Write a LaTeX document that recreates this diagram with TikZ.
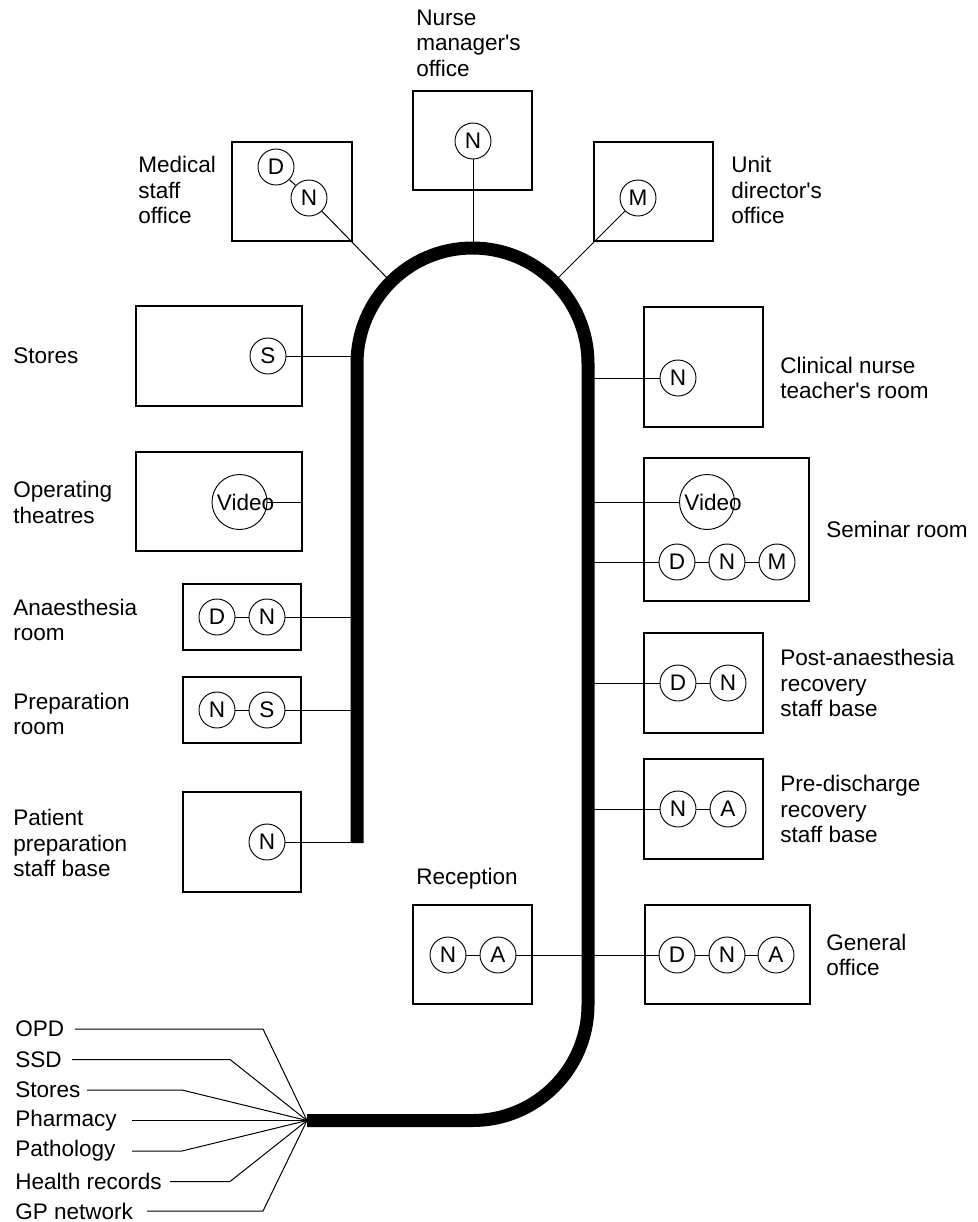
\documentclass[tikz,border=0pt]{standalone}
\usepackage{fontspec}
\newfontfamily\lsf{Liberation Sans}
\begin{document}
\begin{tikzpicture}[x=0.75pt,y=-0.75pt,
  txt/.style={font=\lsf\fontsize{16.9}{19.1}\selectfont, inner sep=0pt},
  lbl/.style={txt, anchor=west, align=left},
  room/.style={draw, line width=1.1pt, inner sep=0pt},
  pc/.style={draw, circle, line width=0.7pt, minimum size=27pt, inner sep=0pt, txt},
  vid/.style={draw, circle, line width=0.7pt, minimum size=41.25pt, inner sep=0pt, txt},
  link/.style={line width=0.75pt},
  track/.style={line width=9.75pt}]
\useasboundingbox (0,0) rectangle (978,1222);

% rooms
\node[room, minimum width=90pt,    minimum height=74.25pt] (med)  at (292,191.5) {};
\node[room, minimum width=89.25pt, minimum height=74.25pt] (nmo)  at (472.5,140.5) {};
\node[room, minimum width=89.25pt, minimum height=74.25pt] (udo)  at (653.5,191.5) {};
\node[room, minimum width=124.5pt, minimum height=75pt]    (sto)  at (219,356) {};
\node[room, minimum width=124.5pt, minimum height=74.25pt] (opt)  at (219,501.5) {};
\node[room, minimum width=88.5pt,  minimum height=49.5pt]  (ana)  at (242,617) {};
\node[room, minimum width=88.5pt,  minimum height=49.5pt]  (prep) at (242,710) {};
\node[room, minimum width=88.5pt,  minimum height=75pt]    (ppsb) at (242,842) {};
\node[room, minimum width=89.25pt, minimum height=90pt]    (cnt)  at (703.5,367) {};
\node[room, minimum width=123.75pt,minimum height=107.25pt](sem)  at (726.5,529.5) {};
\node[room, minimum width=89.25pt, minimum height=75pt]    (pan)  at (703.5,683) {};
\node[room, minimum width=89.25pt, minimum height=75pt]    (pdr)  at (703.5,809) {};
\node[room, minimum width=123.75pt,minimum height=74.25pt] (gen)  at (727.5,954.5) {};
\node[room, minimum width=89.25pt, minimum height=74.25pt] (rec)  at (472.5,954.5) {};

% staff / equipment
\node[pc] (medD) at (276,167) {D};
\node[pc] (medN) at (309,198) {N};
\node[pc] (nmoN) at (473,141) {N};
\node[pc] (udoM) at (638,198) {M};
\node[pc] (stoS) at (268,356) {S};
\node[vid] (optV) at (239.5,502) {\makebox[0pt]{\hspace{9pt}Video}};
\node[pc] (anaD) at (217,617) {D};
\node[pc] (anaN) at (267,617) {N};
\node[pc] (prepN) at (217,710) {N};
\node[pc] (prepS) at (267,710) {S};
\node[pc] (ppsbN) at (267,842) {N};
\node[pc] (cntN) at (678,378) {N};
\node[vid] (semV) at (707,502) {\makebox[0pt]{\hspace{9pt}Video}};
\node[pc] (semD) at (677,562) {D};
\node[pc] (semN) at (727,562) {N};
\node[pc] (semM) at (777,562) {M};
\node[pc] (panD) at (678,683) {D};
\node[pc] (panN) at (728,683) {N};
\node[pc] (pdrN) at (678,809) {N};
\node[pc] (pdrA) at (728,809) {A};
\node[pc] (recN) at (448,955) {N};
\node[pc] (recA) at (498,955) {A};
\node[pc] (genD) at (677,955) {D};
\node[pc] (genN) at (727,955) {N};
\node[pc] (genA) at (776,955) {A};

% track tap points
\coordinate (tMed) at (390.8,281.8);
\coordinate (tNmo) at (473,248);
\coordinate (tUdo) at (554.2,281.8);
\coordinate (tSto) at (357,356);
\coordinate (tAna) at (357,617);
\coordinate (tPrep) at (357,710);
\coordinate (tPpsb) at (357,842);
\coordinate (tCnt) at (588,378);
\coordinate (tSemV) at (588,502);
\coordinate (tSemD) at (588,562);
\coordinate (tPan) at (588,683);
\coordinate (tPdr) at (588,809);
\coordinate (jn) at (307,1120.5);

% connectors
\draw[link] (medD) -- (medN);
\draw[link] (medN) -- (tMed);
\draw[link] (nmoN) -- (tNmo);
\draw[link] (udoM) -- (tUdo);
\draw[link] (stoS) -- (tSto);
\draw[link] (optV) -- (optV -| opt.east);
\draw[link] (anaD) -- (anaN);
\draw[link] (anaN) -- (tAna);
\draw[link] (prepN) -- (prepS);
\draw[link] (prepS) -- (tPrep);
\draw[link] (ppsbN) -- (tPpsb);
\draw[link] (tCnt) -- (cntN);
\draw[link] (tSemV) -- (semV);
\draw[link] (tSemD) -- (semD);
\draw[link] (semD) -- (semN);
\draw[link] (semN) -- (semM);
\draw[link] (tPan) -- (panD);
\draw[link] (panD) -- (panN);
\draw[link] (tPdr) -- (pdrN);
\draw[link] (pdrN) -- (pdrA);
\draw[link] (recN) -- (recA);
\draw[link] (recA) -- (genD);
\draw[link] (genD) -- (genN);
\draw[link] (genN) -- (genA);

% the track
\draw[track] (357,843) -- (357,363.5) arc[start angle=180, end angle=360, radius=115.5]
  -- (588,1005) arc[start angle=0, end angle=90, radius=115.5] -- (jn);

% room labels
\node[lbl] (Lmed) at (138,190) {Medical\\staff\\office};
\node[lbl] (Lnmo) at (416,43) {Nurse\\manager's\\office};
\node[lbl] (Ludo) at (731,190) {Unit\\director's\\office};
\node[lbl] (Lsto) at (13,356) {Stores};
\node[lbl] (Lopt) at (13,502.5) {Operating\\theatres};
\node[lbl] (Lana) at (13,620) {Anaesthesia\\room};
\node[lbl] (Lprep) at (13,714) {Preparation\\room};
\node[lbl] (Lppsb) at (13,843) {Patient\\preparation\\staff base};
\node[lbl] (Lcnt) at (780,378) {Clinical nurse\\teacher's room};
\node[lbl] (Lsem) at (826,529) {Seminar room};
\node[lbl] (Lpan) at (780,683) {Post-anaesthesia\\recovery\\staff base};
\node[lbl] (Lpdr) at (780,809) {Pre-discharge\\recovery\\staff base};
\node[lbl] (Lgen) at (826,955) {General\\office};
\node[lbl] (Lrec) at (416,879) {Reception};

% external links
\node[lbl] (lOPD) at (15,1029) {OPD};
\node[lbl] (lSSD) at (15,1059.5) {SSD};
\node[lbl] (lSto) at (15,1090) {Stores};
\node[lbl] (lPha) at (15,1120.5) {Pharmacy};
\node[lbl] (lPat) at (15,1151) {Pathology};
\node[lbl] (lHea) at (15,1181.5) {Health records};
\node[lbl] (lGP)  at (15,1211) {GP network};

\coordinate (sOPD) at (75,1029);     \coordinate (cOPD) at (263,1029);
\coordinate (sSSD) at (72,1059.5);   \coordinate (cSSD) at (230,1059.5);
\coordinate (sSto) at (87,1090);     \coordinate (cSto) at (182,1090);
\coordinate (sPha) at (132,1120.5);
\coordinate (sPat) at (132,1151);    \coordinate (cPat) at (182,1151);
\coordinate (sHea) at (170,1181.5);  \coordinate (cHea) at (230,1181.5);
\coordinate (sGP)  at (147,1211);    \coordinate (cGP)  at (263,1211);

\draw[link] (sOPD) -- (cOPD) -- (jn);
\draw[link] (sSSD) -- (cSSD) -- (jn);
\draw[link] (sSto) -- (cSto) -- (jn);
\draw[link] (sPha) -- (jn);
\draw[link] (sPat) -- (cPat) -- (jn);
\draw[link] (sHea) -- (cHea) -- (jn);
\draw[link] (sGP)  -- (cGP)  -- (jn);
\end{tikzpicture}
\end{document}
